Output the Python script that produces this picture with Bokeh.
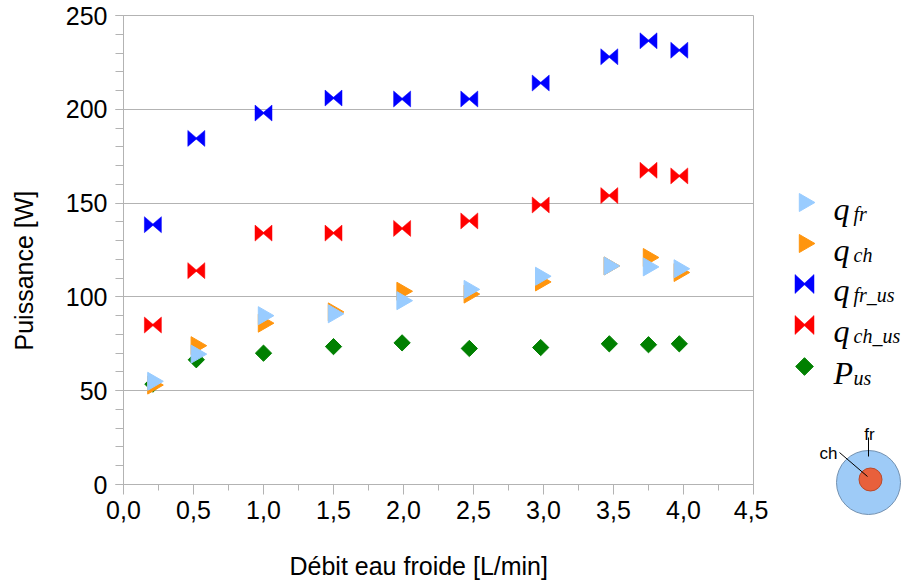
import numpy as np
from bokeh.plotting import figure
from bokeh.models import Range1d, FixedTicker
from bokeh.layouts import row, column
from bokeh.embed import file_html
from bokeh.resources import INLINE
from bokeh.core.properties import value

# ---------------- data ----------------
debit = [0.21, 0.52, 1.0, 1.5, 1.99, 2.47, 2.98, 3.47, 3.75, 3.97]
q_fr = [55, 69.5, 90, 91, 98, 104, 111, 116.5, 116, 115]
q_ch = [53, 74, 86, 92, 103, 101.5, 108, 116.5, 121, 113]
q_fr_us = [138.5, 184.5, 198, 206, 205.5, 205.5, 214, 228, 236.5, 231.5]
q_ch_us = [85, 114, 134, 134, 136.5, 140.5, 149, 154, 167.5, 164.5]
P_us = [53.5, 66.5, 70, 73.5, 75.5, 72.5, 73, 75, 74.5, 75]

x_ticks = [0.0, 0.5, 1.0, 1.5, 2.0, 2.5, 3.0, 3.5, 4.0, 4.5]
x_tick_labels = ["0,0", "0,5", "1,0", "1,5", "2,0", "2,5", "3,0", "3,5", "4,0", "4,5"]
y_ticks = [0, 50, 100, 150, 200, 250]
y_tick_labels = ["0", "50", "100", "150", "200", "250"]

legend_symbols = ["q", "q", "q", "q", "P"]
legend_subscripts = ["fr", "ch", "fr_us", "ch_us", "us"]
diagram_labels = ["ch", "fr"]

x_title = "Débit eau froide [L/min]"
y_title = "Puissance [W]"

# ---------------- styles ----------------
LIGHT_BLUE = "#99ccff"
ORANGE = "#ff950e"
BLUE = "#0000ff"
RED = "#ff0000"
GREEN = "#008000"
GRAY = "#b3b3b3"
SANS = "Liberation Sans"
SERIF = "Liberation Serif"

FW, FH = 630, 469
X_MAX, Y_MAX = 4.5, 250
TOP = 15
LEFT_W = 45          # strip holding the y title
FRAME_LEFT = 123     # page x of the frame's left edge
BOTTOM_AXIS = 59     # room for the x axis under the frame
ROW_H = TOP + FH + BOTTOM_AXIS
TOTAL_H = 580
TOTAL_W = 904


def blank(width, y0, y1, xr, top=0):
    """Panel whose data coordinates equal page pixels (x: xr, y: y0..y1 downwards)."""
    f = figure(frame_width=width, frame_height=y1 - y0, min_border=0,
               min_border_top=top,
               x_range=xr, y_range=Range1d(y1, y0), title=None,
               x_axis_location=None, y_axis_location=None,
               toolbar_location=None, output_backend="svg",
               outline_line_color=None, background_fill_color="white",
               border_fill_color="white")
    f.grid.visible = False
    return f


# ---------------- main plot ----------------
p = figure(frame_width=FW, frame_height=FH, title=None,
           min_border_left=FRAME_LEFT - LEFT_W, min_border_right=15,
           min_border_top=TOP, min_border_bottom=BOTTOM_AXIS,
           x_range=Range1d(0, X_MAX), y_range=Range1d(0, Y_MAX),
           toolbar_location=None, output_backend="svg",
           background_fill_color="white", border_fill_color="white",
           outline_line_color=GRAY)


def bowtie_xy(xs, ys, sx, sy, hw=8.5, hh=8.0, apex=0.8):
    px, py = [], []
    for x, y in zip(xs, ys):
        px.append([x - hw * sx, x + apex * sx, x - hw * sx])
        py.append([y + hh * sy, y, y - hh * sy])
        px.append([x + hw * sx, x - apex * sx, x + hw * sx])
        py.append([y + hh * sy, y, y - hh * sy])
    return px, py


sx, sy = X_MAX / FW, Y_MAX / FH

bx, by = bowtie_xy(debit, q_ch_us, sx, sy)
p.patches(bx, by, fill_color=RED, line_color=RED, line_width=0.5)
bx, by = bowtie_xy(debit, q_fr_us, sx, sy)
p.patches(bx, by, fill_color=BLUE, line_color=BLUE, line_width=0.5)
p.scatter(debit, P_us, marker="square", size=11.5, angle=np.pi / 4,
          fill_color=GREEN, line_color=GREEN)
p.scatter(debit, q_ch, marker="triangle", size=18, angle=-np.pi / 2,
          fill_color=ORANGE, line_color=ORANGE)
p.scatter(debit, q_fr, marker="triangle", size=18, angle=-np.pi / 2,
          fill_color=LIGHT_BLUE, line_color=LIGHT_BLUE)


def key(v):
    return int(v) if float(v).is_integer() else v


p.xaxis.ticker = FixedTicker(ticks=x_ticks, minor_ticks=[i * 0.25 for i in range(19)])
p.xaxis.major_label_overrides = {key(v): s for v, s in zip(x_ticks, x_tick_labels)}
p.yaxis.ticker = FixedTicker(ticks=y_ticks, minor_ticks=list(range(0, 251, 10)))
p.yaxis.major_label_overrides = {key(v): s for v, s in zip(y_ticks, y_tick_labels)}

p.xgrid.visible = False
p.ygrid.grid_line_color = GRAY
p.ygrid.grid_line_width = 1

for ax in (p.xaxis[0], p.yaxis[0]):
    ax.axis_line_color = GRAY
    ax.major_tick_line_color = GRAY
    ax.minor_tick_line_color = GRAY
    ax.major_tick_in = 0
    ax.minor_tick_in = 0
    ax.major_label_text_font = SANS
    ax.major_label_text_font_size = "25px"
    ax.major_label_text_color = "black"

p.xaxis.major_tick_out = 10
p.xaxis.minor_tick_out = 6
p.xaxis.major_label_standoff = 6
p.yaxis.major_tick_out = 8
p.yaxis.minor_tick_out = 8
p.yaxis.major_label_standoff = 8

# ---------------- y title strip (frame top aligned with the plot's) ----------------
p_left = blank(LEFT_W, TOP, ROW_H, Range1d(0, LEFT_W), top=TOP)
p_left.text(x=[23.5], y=[350], text=[y_title], angle=np.pi / 2,
            text_font=value(SANS), text_font_size="25px",
            text_align="left", text_baseline="middle", text_color="black")

# ---------------- legend + diagram panel ----------------
X0 = FRAME_LEFT + FW + 15   # page x where the panel starts (768)
LW = TOTAL_W - X0
p2 = blank(LW, TOP, ROW_H, Range1d(X0, X0 + LW), top=TOP)

row_y = [202, 243, 283.5, 324.5, 366]
mx = 804
p2.scatter([mx], [row_y[0]], marker="triangle", size=18, angle=-np.pi / 2,
           fill_color=LIGHT_BLUE, line_color=LIGHT_BLUE)
p2.scatter([mx], [row_y[1]], marker="triangle", size=18, angle=-np.pi / 2,
           fill_color=ORANGE, line_color=ORANGE)
bx, by = bowtie_xy([mx], [row_y[2]], 1, 1, hw=9.5, hh=9.5)
p2.patches(bx, by, fill_color=BLUE, line_color=BLUE, line_width=0.5)
bx, by = bowtie_xy([mx], [row_y[3]], 1, 1, hw=9.5, hh=9.5)
p2.patches(bx, by, fill_color=RED, line_color=RED, line_width=0.5)
p2.scatter([mx], [row_y[4]], marker="square", size=12.5, angle=np.pi / 4,
           fill_color=GREEN, line_color=GREEN)

p2.text(x=[833] * 5, y=[r + 6 for r in row_y], text=legend_symbols,
        text_font=value(SERIF), text_font_style="italic", text_font_size="32px",
        text_baseline="alphabetic", text_align="left", text_color="black")
p2.text(x=[853] * 5, y=[r + 11 for r in row_y], text=legend_subscripts,
        text_font=value(SERIF), text_font_style="italic", text_font_size="20px",
        text_baseline="alphabetic", text_align="left", text_color="black")

# diagram (cross-section of the exchanger)
p2.circle(x=[868], y=[482], radius=32, fill_color="#9ecbf7", line_color="#7391b0", line_width=1)
p2.circle(x=[870], y=[479], radius=11.5, fill_color="#e8603c", line_color="#b94a2c", line_width=1)
p2.segment(x0=[839, 868], y0=[452, 437], x1=[867, 868], y1=[476, 456],
           line_color="black", line_width=1)
p2.text(x=[819, 869], y=[453, 434], text=diagram_labels,
        text_font=value(SANS), text_font_size="17px",
        text_baseline="alphabetic", text_align=["left", "center"], text_color="black")

# ---------------- x title strip ----------------
p_bottom = blank(TOTAL_W, ROW_H, TOTAL_H, Range1d(0, TOTAL_W))
p_bottom.text(x=[289], y=[565], text=[x_title],
              text_font=value(SANS), text_font_size="25px",
              text_align="left", text_baseline="alphabetic", text_color="black")

layout = column(row(p_left, p, p2), p_bottom)
open("out.html", "w").write(file_html(layout, INLINE))
